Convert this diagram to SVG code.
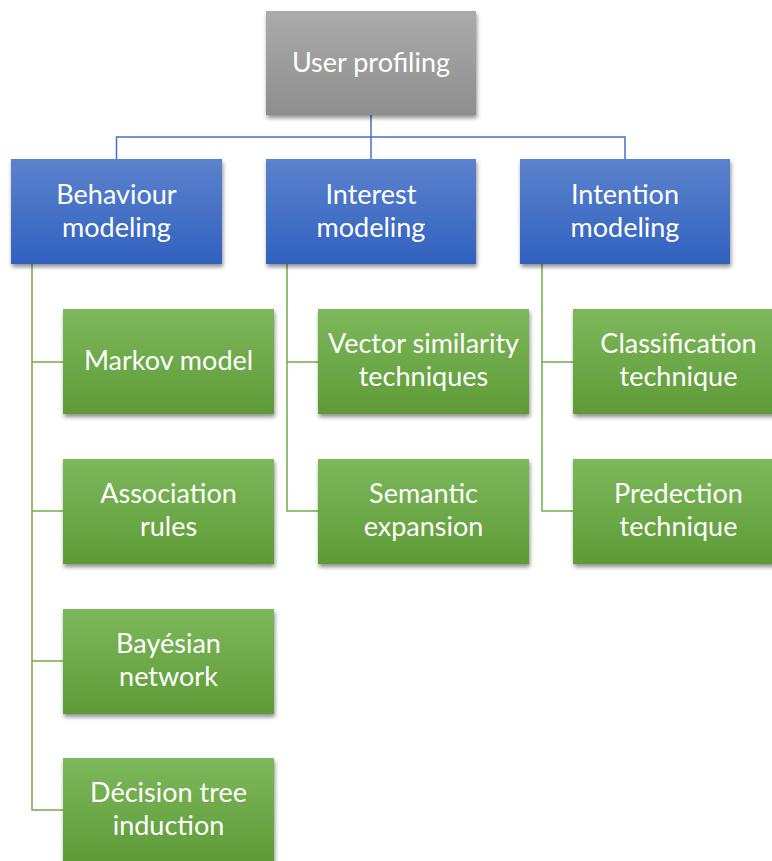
<svg xmlns="http://www.w3.org/2000/svg" width="772" height="861" viewBox="0 0 772 861">
  <defs>
    <linearGradient id="gGray" x1="0" y1="0" x2="0" y2="1">
      <stop offset="0" stop-color="#ababab"/>
      <stop offset="1" stop-color="#8e8e8e"/>
    </linearGradient>
    <linearGradient id="gBlue" x1="0" y1="0" x2="0" y2="1">
      <stop offset="0" stop-color="#5c82cd"/>
      <stop offset="1" stop-color="#3061bf"/>
    </linearGradient>
    <linearGradient id="gGreen" x1="0" y1="0" x2="0" y2="1">
      <stop offset="0" stop-color="#7db85c"/>
      <stop offset="1" stop-color="#5e9b36"/>
    </linearGradient>
    <filter id="shadow" x="-10%" y="-10%" width="125%" height="130%">
      <feGaussianBlur in="SourceAlpha" stdDeviation="2"/>
      <feOffset dx="1" dy="3" result="b"/>
      <feComponentTransfer><feFuncA type="linear" slope="0.45"/></feComponentTransfer>
      <feMerge><feMergeNode/><feMergeNode in="SourceGraphic"/></feMerge>
    </filter>
  </defs>
  <style>
    .lbl { font-family: Lato, "Open Sans", "Liberation Sans", sans-serif; font-size: 27px; fill: #ffffff; text-anchor: middle; }
    .cb { fill: none; stroke: #4472c4; stroke-width: 1.5; }
    .cg { fill: none; stroke: #70ad47; stroke-width: 1.5; }
    .gray { fill: url(#gGray); filter: url(#shadow); }
    .blue { fill: url(#gBlue); filter: url(#shadow); }
    .green { fill: url(#gGreen); filter: url(#shadow); }
  </style>

  <!-- connectors -->
  <g id="connectors">
    <path class="cb" d="M371 115 V159 M116.5 159 V137 H625 V159"/>
    <path class="cg" d="M32 264 V810 H63 M32 362 H63 M32 511 H63 M32 661 H63"/>
    <path class="cg" d="M287 264 V511 H318 M287 362 H318"/>
    <path class="cg" d="M542 264 V511 H573 M542 362 H573"/>
  </g>

  <!-- root -->
  <g id="user-profiling">
    <rect class="gray" x="266" y="11" width="210" height="104"/>
    <text class="lbl" x="371" y="72">User profiling</text>
  </g>

  <!-- second level -->
  <g id="behaviour-modeling">
    <rect class="blue" x="11" y="159" width="211" height="105"/>
    <text class="lbl" x="116.5" y="204">Behaviour</text>
    <text class="lbl" x="116.5" y="237">modeling</text>
  </g>
  <g id="interest-modeling">
    <rect class="blue" x="266" y="159" width="210" height="105"/>
    <text class="lbl" x="371" y="204">Interest</text>
    <text class="lbl" x="371" y="237">modeling</text>
  </g>
  <g id="intention-modeling">
    <rect class="blue" x="520" y="159" width="210" height="105"/>
    <text class="lbl" x="625" y="204">Intention</text>
    <text class="lbl" x="625" y="237">modeling</text>
  </g>

  <!-- behaviour modeling children -->
  <g id="markov-model">
    <rect class="green" x="63" y="309" width="211" height="105"/>
    <text class="lbl" x="168.5" y="370">Markov model</text>
  </g>
  <g id="association-rules">
    <rect class="green" x="63" y="459" width="211" height="105"/>
    <text class="lbl" x="168.5" y="503">Association</text>
    <text class="lbl" x="168.5" y="536">rules</text>
  </g>
  <g id="bayesian-network">
    <rect class="green" x="63" y="609" width="211" height="105"/>
    <text class="lbl" x="168.5" y="653">Bayésian</text>
    <text class="lbl" x="168.5" y="686">network</text>
  </g>
  <g id="decision-tree-induction">
    <rect class="green" x="63" y="758" width="211" height="105"/>
    <text class="lbl" x="168.5" y="802">Décision tree</text>
    <text class="lbl" x="168.5" y="835">induction</text>
  </g>

  <!-- interest modeling children -->
  <g id="vector-similarity">
    <rect class="green" x="318" y="309" width="211" height="105"/>
    <text class="lbl" x="423.5" y="353">Vector similarity</text>
    <text class="lbl" x="423.5" y="386">techniques</text>
  </g>
  <g id="semantic-expansion">
    <rect class="green" x="318" y="459" width="211" height="105"/>
    <text class="lbl" x="423.5" y="503">Semantic</text>
    <text class="lbl" x="423.5" y="536">expansion</text>
  </g>

  <!-- intention modeling children -->
  <g id="classification-technique">
    <rect class="green" x="573" y="309" width="211" height="105"/>
    <text class="lbl" x="678.5" y="353">Classification</text>
    <text class="lbl" x="678.5" y="386">technique</text>
  </g>
  <g id="predection-technique">
    <rect class="green" x="573" y="459" width="211" height="105"/>
    <text class="lbl" x="678.5" y="503">Predection</text>
    <text class="lbl" x="678.5" y="536">technique</text>
  </g>
</svg>
